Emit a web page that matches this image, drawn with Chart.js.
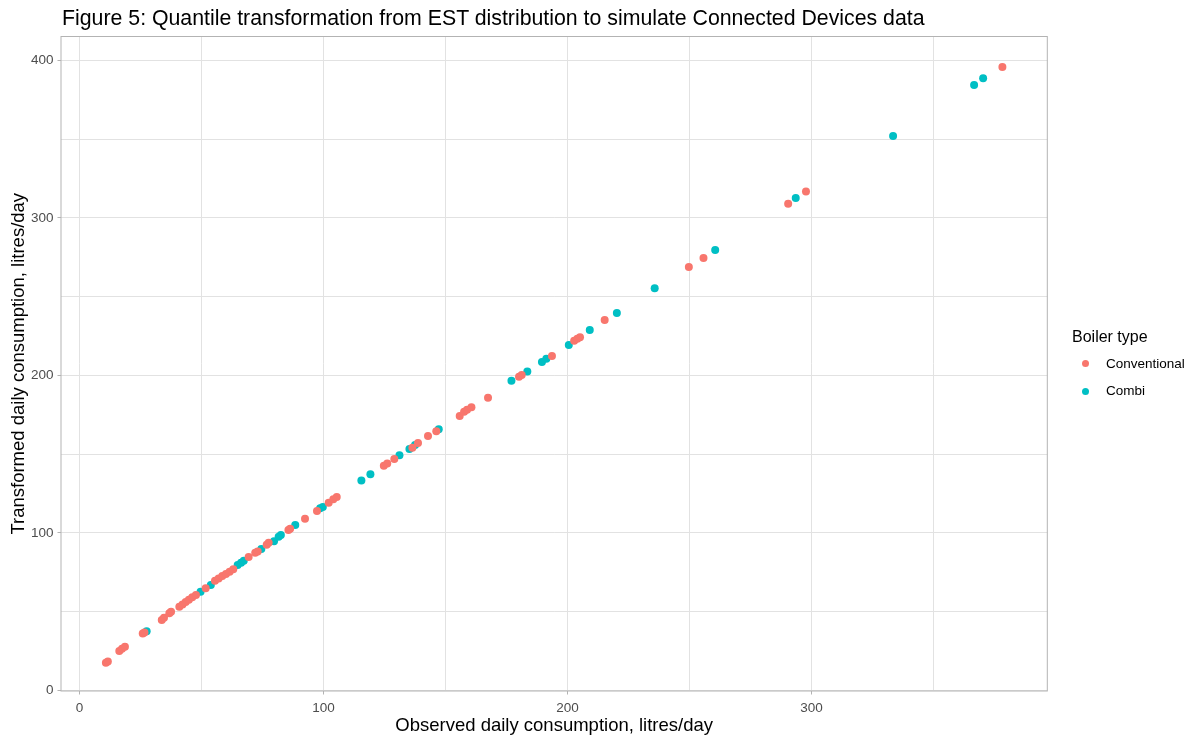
<!DOCTYPE html>
<html>
<head>
<meta charset="utf-8">
<title>Figure 5</title>
<script src="https://cdn.jsdelivr.net/npm/chart.js@4.4.1/dist/chart.umd.min.js"></script>
<style>
  body { margin: 0; background: #fff; font-family: "Liberation Sans", Arial, sans-serif; }
  #wrap { position: relative; width: 1190px; height: 740px; }
  #title { position: absolute; left: 62px; top: 7.5px; font-size: 21.3px; line-height: 21px; color: #000; white-space: nowrap; }
  .leg-title { position: absolute; left: 1072px; top: 329px; font-size: 16px; line-height: 16px; color: #000; white-space: nowrap; }
  .leg-item { position: absolute; left: 1106px; font-size: 13.5px; line-height: 14px; color: #000; white-space: nowrap; }
  .leg-dot { position: absolute; left: 1081.5px; width: 7px; height: 7px; border-radius: 50%; }
</style>
</head>
<body>
<div id="wrap">
  <canvas id="chart" width="1190" height="740"></canvas>
  <div id="title">Figure 5: Quantile transformation from EST distribution to simulate Connected Devices data</div>
  <div class="leg-title">Boiler type</div>
  <span class="leg-dot" style="top:360.2px;background:#F8766D"></span>
  <div class="leg-item" style="top:357px">Conventional</div>
  <span class="leg-dot" style="top:387.5px;background:#00BFC4"></span>
  <div class="leg-item" style="top:384px">Combi</div>
</div>
<script>
// --- data ---
const conventionalObserved = [
  10.8, 11.6, 16.3, 17.4, 18.6, 25.9, 26.6, 33.7, 34.6, 36.8, 37.5,
  40.9, 42.2, 43.5, 44.8, 46.2, 47.7, 51.7, 55.5, 57.0, 58.5, 60.0, 61.5, 63.0,
  69.3, 72.0, 73.0, 76.7, 77.5, 85.6, 86.3, 92.4, 97.3, 102.1, 104.0, 105.4,
  124.7, 126.1, 129.0, 136.4, 138.7, 142.8, 146.2, 155.8, 157.6, 158.8, 160.6,
  167.4, 180.1, 181.2, 193.6, 202.7, 204.0, 205.1, 215.2, 249.7, 255.7,
  290.4, 297.7, 378.2
];
const conventionalTransformed = [
  17.5, 18.3, 24.9, 26.4, 27.6, 36.1, 36.6, 44.6, 46.1, 48.9, 49.9,
  53.0, 54.5, 56.0, 57.5, 59.0, 60.5, 64.7, 69.6, 71.0, 72.5, 73.9, 75.3, 76.8,
  84.6, 87.4, 88.2, 92.4, 93.7, 101.8, 102.6, 109.0, 113.8, 119.1, 121.3, 122.7,
  142.6, 144.1, 146.9, 154.1, 157.1, 161.5, 164.5, 174.2, 176.9, 178.2, 179.7,
  185.8, 199.2, 200.3, 212.4, 222.0, 223.3, 224.2, 235.2, 268.9, 274.6,
  309.1, 316.9, 395.9
];
const combiObserved = [
  27.5, 49.6, 53.8, 64.8, 66.2, 67.3, 74.5, 79.7, 81.6, 82.5, 88.4, 98.6, 99.7,
  115.5, 119.2, 131.1, 135.2, 137.5, 147.2, 177.0, 183.5, 189.5, 191.3, 200.5,
  209.1, 220.2, 235.7, 260.5, 293.5, 333.4, 366.6, 370.3
];
const combiTransformed = [
  37.5, 62.6, 66.9, 79.5, 81.0, 82.3, 89.7, 94.6, 97.5, 98.6, 105.0, 115.6, 116.4,
  133.3, 137.2, 149.2, 153.2, 155.8, 165.8, 196.6, 202.4, 208.5, 210.6, 219.3,
  228.8, 239.6, 255.3, 279.7, 312.7, 352.1, 384.5, 388.7
];
const xTicks = [0, 50, 100, 150, 200, 250, 300, 350];
const yTicks = [0, 50, 100, 150, 200, 250, 300, 350, 400];

const toPoints = (xs, ys) => xs.map((x, i) => ({ x: x, y: ys[i] }));
const isMajor = v => v % 100 === 0;

// panel border like theme_light
const panelBorder = {
  id: 'panelBorder',
  afterDraw(chart) {
    const { ctx, chartArea: a } = chart;
    ctx.save();
    ctx.strokeStyle = '#b3b3b3';
    ctx.lineWidth = 1;
    ctx.strokeRect(a.left, a.top, a.right - a.left, a.bottom - a.top);
    ctx.restore();
  }
};

function axisOptions(tickValues, min, max, titleText, fit, tickPad) {
  return {
    type: 'linear',
    min: min,
    max: max,
    afterBuildTicks: scale => { scale.ticks = tickValues.map(v => ({ value: v })); },
    afterFit: fit,
    border: { display: false },
    grid: {
      color: '#e2e2e2',
      lineWidth: 1,
      tickLength: 3.5,
      tickColor: ctx => isMajor(ctx.tick.value) ? '#b3b3b3' : 'rgba(0,0,0,0)'
    },
    ticks: {
      autoSkip: false,
      maxRotation: 0,
      padding: tickPad,
      color: '#4d4d4d',
      font: { family: '"Liberation Sans", Arial, sans-serif', size: 13.5 },
      callback: v => isMajor(v) ? String(v) : ''
    },
    title: {
      display: true,
      text: titleText,
      color: '#000',
      font: { family: '"Liberation Sans", Arial, sans-serif', size: 18.5 },
      padding: { top: 8, bottom: 3 }
    }
  };
}

new Chart(document.getElementById('chart'), {
  type: 'scatter',
  data: {
    datasets: [
      {
        label: 'Conventional',
        data: toPoints(conventionalObserved, conventionalTransformed),
        backgroundColor: '#F8766D',
        borderWidth: 0,
        pointRadius: 4,
        pointHoverRadius: 4
      },
      {
        label: 'Combi',
        data: toPoints(combiObserved, combiTransformed),
        backgroundColor: '#00BFC4',
        borderWidth: 0,
        pointRadius: 4,
        pointHoverRadius: 4
      }
    ]
  },
  options: {
    responsive: false,
    animation: false,
    devicePixelRatio: 1,
    layout: { padding: { top: 36.5, right: 142.7, left: 0, bottom: 0 } },
    plugins: {
      legend: { display: false },
      title: { display: false },
      tooltip: { enabled: false }
    },
    scales: {
      x: axisOptions(xTicks, -7.6, 396.6, 'Observed daily consumption, litres/day', s => { s.height = 49; }, 6),
      y: axisOptions(yTicks, -0.5, 415.3, 'Transformed daily consumption, litres/day', s => { s.width = 61; }, 4)
    }
  },
  plugins: [panelBorder]
});
</script>
</body>
</html>
